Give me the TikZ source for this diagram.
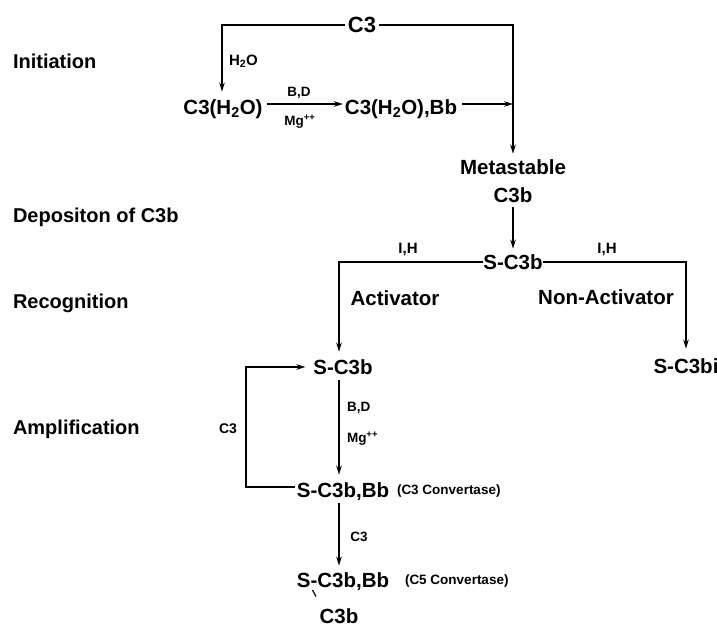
\documentclass[tikz,border=0pt]{standalone}
\usepackage{fontspec}
\setmainfont{Liberation Sans}
\usetikzlibrary{arrows.meta,calc}
\begin{document}
\begin{tikzpicture}[x=1pt,y=-1pt,
  txt/.style={inner sep=0pt,outer sep=0pt,text height=14.3pt,text depth=0pt,font=\bfseries\fontsize{20}{22}\selectfont},
  big/.style={txt,text height=14.7pt,font=\bfseries\fontsize{20.5}{23}\selectfont},
  sml/.style={txt,text height=9.7pt,font=\bfseries\fontsize{13.5}{15}\selectfont},
  med/.style={txt,text height=10.7pt,font=\bfseries\fontsize{15}{17}\selectfont},
  conn/.style={line width=1.6pt},
  arr/.style={conn,-{Stealth[length=9pt,width=5.5pt]}}]
\useasboundingbox (0,0) rectangle (717,627);
% stage labels
\node[txt,anchor=west] (ini) at (13,61) {Initiation};
\node[txt,anchor=west] (dep) at (13,215) {Depositon of C3b};
\node[txt,anchor=west] (rec) at (13,301) {Recognition};
\node[txt,anchor=west] (amp) at (13,427) {Amplification};
% initiation
\node[big,text height=15.8pt,font=\bfseries\fontsize{22}{24}\selectfont,inner xsep=3pt] (c3) at (362,25) {C3};
\node[big] (c3w) at (223,107) {C3(H\textsubscript{2}O)};
\node[big] (c3wbb) at (401,107) {C3(H\textsubscript{2}O),Bb};
\node[med,anchor=west] (h2o) at (229,60) {H\textsubscript{2}O};
\node[sml] (bd1) at (299,92) {B,D};
\node[sml] (mg1) at (300,121) {Mg\textsuperscript{++}};
% metastable
\node[big] (meta) at (513,167) {Metastable};
\node[big] (metac) at (513,195) {C3b};
\node[big] (sc3b) at (513,262) {S-C3b};
\node[med] (ih1) at (408,248) {I,H};
\node[med] (ih2) at (607,248) {I,H};
\node[big] (act) at (395,298) {Activator};
\node[big] (nact) at (606,297) {Non-Activator};
\node[big] (sc3bi) at (686,366) {S-C3bi};
% amplification
\coordinate (ax) at (339,0);
\coordinate (lx) at (246,0);
\node[big] (sc3b2) at (343,367) {S-C3b};
\node[sml,anchor=west] (bd2) at (347,407) {B,D};
\node[sml,anchor=west] (mg2) at (347,438) {Mg\textsuperscript{++}};
\node[sml,text height=10pt,font=\bfseries\fontsize{14}{16}\selectfont] (c3l) at (228,428) {C3};
\node[big] (sc3bb) at (343,490) {S-C3b,Bb};
\node[sml,anchor=west] (cv3) at (397,490) {(C3 Convertase)};
\node[sml] (c3l2) at (359,537) {C3};
\node[big] (sc5) at (343,580) {S-C3b,Bb};
\node[sml,anchor=west] (cv5) at (405,580) {(C5 Convertase)};
\node[big] (c3bb) at (339,616) {C3b};
\draw[line width=1.2pt] (312.5,590) -- (316,596.5);
% helper coordinates
\coordinate (e1) at ($(c3wbb.east)+(0,-3)$);
\coordinate (e2) at ($(sc3bb.west)+(0,-3)$);
% connectors
\draw[arr] (c3.west) -| ($(c3w.north)+(-1,-8)$);
\draw[arr] (c3.east) -| ($(meta.north)+(0,-6)$);
\draw[arr] ($(c3w.east)+(4,-3)$) -- ($(c3wbb.west)+(-2,-3)$);
\draw[arr] ($(e1)+(5,0)$) -- (e1 -| meta.north);
\draw[arr] ($(metac.south)+(0,5)$) -- ($(sc3b.north)+(0,-6)$);
\draw[arr] (sc3b.west) -| ($(ax|-sc3b2.north)+(0,-8)$);
\draw[arr] (sc3b.east) -| ($(sc3bi.north)+(0,-10)$);
\draw[arr] ($(ax|-sc3b2.south)+(0,6)$) -- ($(ax|-sc3bb.north)+(0,-8)$);
\draw[arr] ($(ax|-sc3bb.south)+(0,6)$) -- ($(ax|-sc5.north)+(0,-7)$);
\draw[arr] ($(e2)+(-2,0)$) -- (e2 -| lx) -- (sc3b2.west -| lx) -- ($(sc3b2.west)+(-8,0)$);
\end{tikzpicture}
\end{document}
